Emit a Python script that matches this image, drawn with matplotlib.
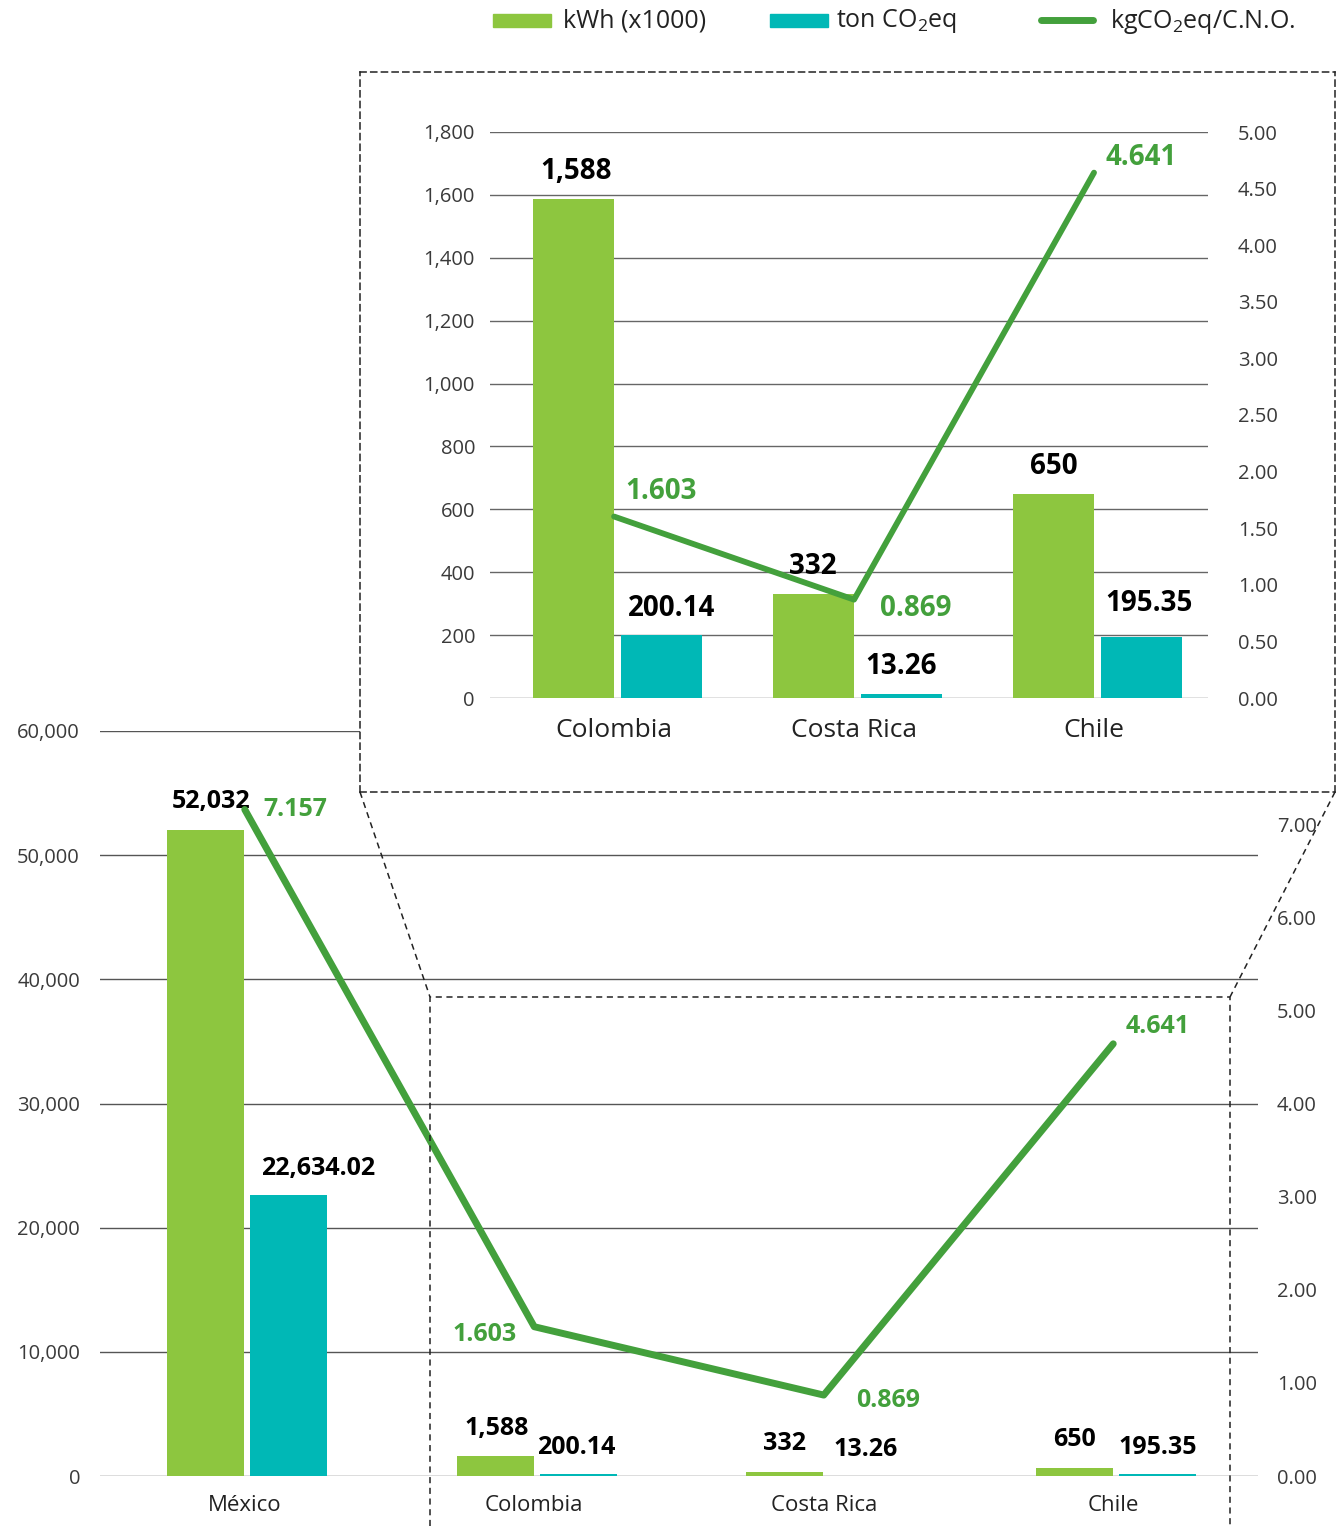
import matplotlib
matplotlib.use('Agg')
import matplotlib.pyplot as plt
from matplotlib.lines import Line2D
from matplotlib.patches import Rectangle
import numpy as np

FONT = 'Open Sans'
plt.rcParams['font.family'] = [FONT, 'DejaVu Sans']
plt.rcParams['mathtext.fontset'] = 'custom'
plt.rcParams['mathtext.rm'] = FONT
plt.rcParams['mathtext.it'] = FONT
plt.rcParams['mathtext.bf'] = FONT + ':bold'

# data
countries = ['México', 'Colombia', 'Costa Rica', 'Chile']
kwh = [52032, 1588, 332, 650]
kwh_labels = ['52,032', '1,588', '332', '650']
co2 = [22634.02, 200.14, 13.26, 195.35]
co2_labels = ['22,634.02', '200.14', '13.26', '195.35']
ratio = [7.157, 1.603, 0.869, 4.641]
ratio_labels = ['7.157', '1.603', '0.869', '4.641']

GREEN = '#8dc63f'
TEAL = '#00b8b6'
LINE = '#43a03c'
GRID = '#555555'
TICK = '#3a3a3a'

W, H = 1337, 1526
fig = plt.figure(figsize=(W / 100, H / 100), dpi=100)


def rect(x0, y0, x1, y1):
    # pixel box (top-left origin) -> figure fraction
    return [x0 / W, 1 - y1 / H, (x1 - x0) / W, (y1 - y0) / H]


def px(v):
    return v * 0.72


# ---------------- main chart ----------------
ax = fig.add_axes(rect(100, 731, 1258, 1476))
x = np.arange(len(countries))
ax.bar(x - 0.135, kwh, width=0.266, color=GREEN, zorder=2)
ax.bar(x + 0.152, co2, width=0.266, color=TEAL, zorder=2)
ax.set_xlim(-0.5, 3.5)
ax.set_ylim(0, 60000)
ax.set_yticks(np.arange(0, 60001, 10000))
ax.set_yticklabels([f'{v:,}' for v in range(0, 60001, 10000)])
ax.set_xticks(x)
ax.set_xticklabels(countries, fontsize=16, color='#222222')
ax.tick_params(axis='x', length=0, pad=px(19))
ax.tick_params(axis='y', length=0, pad=px(20), labelsize=14.5, labelcolor=TICK)
ax.yaxis.grid(True, color=GRID, linewidth=1)
ax.set_axisbelow(True)
for s in ax.spines.values():
    s.set_visible(False)

kwh_dx = [5, 2, 0, 0]
co2_dx = [29, -2, -2, 0]
for i in range(len(countries)):
    ax.annotate(kwh_labels[i], (x[i] - 0.135, kwh[i]), xytext=(px(kwh_dx[i]), px(28)),
                textcoords='offset points', ha='center', va='center',
                fontsize=18, fontweight='bold', color='black', zorder=5)
    ax.annotate(co2_labels[i], (x[i] + 0.152, co2[i]), xytext=(px(co2_dx[i]), px(26)),
                textcoords='offset points', ha='center', va='center',
                fontsize=18, fontweight='bold', color='black', zorder=5)

ax2 = ax.twinx()
ax2.plot(x, ratio, color=LINE, linewidth=5, solid_capstyle='round', zorder=3)
ax2.set_ylim(0, 8)
ax2.set_yticks(np.arange(0, 8))
ax2.set_yticklabels([f'{v:.2f}' for v in range(0, 8)])
ax2.tick_params(axis='y', length=0, pad=px(19), labelsize=14.5, labelcolor=TICK)
for s in ax2.spines.values():
    s.set_visible(False)
r_off = [(51, 0), (-50, -8), (64, -5), (44, 17)]
for i in range(len(countries)):
    ax2.annotate(ratio_labels[i], (x[i], ratio[i]), xytext=(px(r_off[i][0]), px(r_off[i][1])),
                 textcoords='offset points', ha='center', va='center',
                 fontsize=18, fontweight='bold', color=LINE)

# ---------------- zoom box ----------------
box = fig.add_axes(rect(360, 72, 1335, 792))
box.set_facecolor('white')
box.set_xticks([])
box.set_yticks([])
for s in box.spines.values():
    s.set_linestyle((0, (4, 3)))
    s.set_linewidth(1.1)
    s.set_color('#222222')

ins = fig.add_axes(rect(490, 132, 1208, 698))
xi = np.arange(3)
ins.bar(xi - 0.167, kwh[1:], width=0.3375, color=GREEN, zorder=2)
ins.bar(xi + 0.196, co2[1:], width=0.3375, color=TEAL, zorder=2)
ins.set_xlim(-0.517, 2.475)
ins.set_ylim(0, 1800)
ins.set_yticks(np.arange(0, 1801, 200))
ins.set_yticklabels([f'{v:,}' for v in range(0, 1801, 200)])
ins.set_xticks(xi)
ins.set_xticklabels(countries[1:], fontsize=19, color='#222222')
ins.tick_params(axis='x', length=0, pad=px(20))
ins.tick_params(axis='y', length=0, pad=px(15), labelsize=14.5, labelcolor=TICK)
ins.yaxis.grid(True, color='#666666', linewidth=1)
ins.set_axisbelow(True)
ins.patch.set_alpha(0)
for s in ins.spines.values():
    s.set_visible(False)

ikwh_dx = [2, -1, 0]
ico2_dx = [10, 0, 8]
ico2_dy = [27, 27, 33]
for i in range(3):
    ins.annotate(kwh_labels[i + 1], (xi[i] - 0.167, kwh[i + 1]), xytext=(px(ikwh_dx[i]), px(27)),
                 textcoords='offset points', ha='center', va='center',
                 fontsize=20, fontweight='bold', color='black', zorder=5)
    ins.annotate(co2_labels[i + 1], (xi[i] + 0.196, co2[i + 1]), xytext=(px(ico2_dx[i]), px(ico2_dy[i])),
                 textcoords='offset points', ha='center', va='center',
                 fontsize=20, fontweight='bold', color='black', zorder=5)

ins2 = ins.twinx()
ins2.plot(xi, ratio[1:], color=LINE, linewidth=4.2, solid_capstyle='round')
ins2.set_ylim(0, 5)
ins2.set_yticks(np.arange(0, 5.01, 0.5))
ins2.set_yticklabels([f'{v:.2f}' for v in np.arange(0, 5.01, 0.5)])
ins2.tick_params(axis='y', length=0, pad=px(30), labelsize=14.5, labelcolor=TICK)
for s in ins2.spines.values():
    s.set_visible(False)
ir_off = [(47, 25), (62, -9), (47, 15)]
for i in range(3):
    ins2.annotate(ratio_labels[i + 1], (xi[i], ratio[i + 1]), xytext=(px(ir_off[i][0]), px(ir_off[i][1])),
                  textcoords='offset points', ha='center', va='center',
                  fontsize=20, fontweight='bold', color=LINE)

# dashed connectors and lower box
def fline(pts):
    xs = [p[0] / W for p in pts]
    ys = [1 - p[1] / H for p in pts]
    fig.lines.append(Line2D(xs, ys, transform=fig.transFigure, color='#222222',
                            linewidth=1.1, linestyle=(0, (4, 3)), zorder=5))

fline([(360, 792), (430, 997)])
fline([(1335, 792), (1230, 997)])
fline([(430, 1526), (430, 997), (1230, 997), (1230, 1526)])

# ---------------- legend ----------------
def frect(x0, y0, x1, y1, c):
    fig.patches.append(Rectangle((x0 / W, 1 - y1 / H), (x1 - x0) / W, (y1 - y0) / H,
                                 transform=fig.transFigure, color=c))

frect(493, 14, 551, 27, GREEN)
frect(770, 14, 828, 27, TEAL)
fig.lines.append(Line2D([1041 / W, 1093 / W], [1 - 20 / H] * 2, transform=fig.transFigure,
                        color=LINE, linewidth=5, solid_capstyle='round'))
fig.text(563 / W, 1 - 21 / H, 'kWh (x1000)', fontsize=18, va='center', color='#222222')
fig.text(836 / W, 1 - 21 / H, 'ton CO$_2$eq', fontsize=18, va='center', color='#222222')
fig.text(1110 / W, 1 - 21 / H, 'kgCO$_2$eq/C.N.O.', fontsize=18, va='center', color='#222222')

fig.savefig('out.png', dpi=100)
